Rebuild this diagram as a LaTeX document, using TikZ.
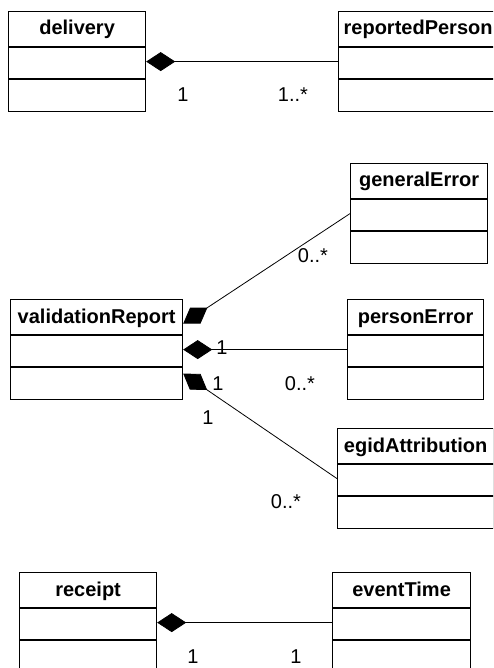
\documentclass[tikz,border=0pt]{standalone}
\usepackage{fontspec}
\setmainfont{Liberation Sans}
\usetikzlibrary{arrows.meta}
\newcommand{\umlclass}[5]{%
  \node[classbox, minimum width=#4pt, anchor=north west] (#1) at (#2,#3) {};
  \draw[classline] ([yshift=-36pt]#1.north west) -- ([yshift=-36pt]#1.north east);
  \draw[classline] ([yshift=-68pt]#1.north west) -- ([yshift=-68pt]#1.north east);
  \node[classtitle] (#1-title) at ([yshift=-24pt]#1.north) {#5};
}
\begin{document}
\begin{tikzpicture}[x=1pt,y=-1pt,
  classbox/.style={draw, line width=1.2pt, rectangle, minimum height=100pt, inner sep=0pt},
  classline/.style={line width=1.2pt},
  classtitle/.style={anchor=base, inner sep=0pt, font=\fontsize{20}{24}\selectfont\bfseries},
  mult/.style={inner sep=0pt, anchor=center, font=\fontsize{20}{24}\selectfont},
  comp/.style={line width=0.8pt, -{Diamond[length=29pt,width=19pt]}}]
\useasboundingbox (0,0) rectangle (493,668);
\clip (0,0) rectangle (493,668);
\fill[white] (0,0) rectangle (493,668);

\umlclass{delivery}{8}{11}{137}{delivery}
\umlclass{reportedPerson}{338}{11}{159}{reportedPerson}
\umlclass{generalError}{350}{163}{137}{generalError}
\umlclass{validationReport}{10}{299}{172}{validationReport}
\umlclass{personError}{347}{299}{136}{personError}
\umlclass{egidAttribution}{337}{428}{156}{egidAttribution}
\umlclass{receipt}{19}{572}{137}{receipt}
\umlclass{eventTime}{332}{572}{138}{eventTime}

\draw[comp] (reportedPerson.west) -- (delivery.east);
\draw[comp] (generalError.west) -- ([yshift=26pt]validationReport.east);
\draw[comp] (personError.west) -- (validationReport.east);
\draw[comp] (egidAttribution.west) -- ([yshift=-24pt]validationReport.east);
\draw[comp] (eventTime.west) -- (receipt.east);

\node[mult] (m1) at (183,95) {1};
\node[mult] (m2) at (293,95) {1..*};
\node[mult] (m3) at (313,256) {0..*};
\node[mult] (m4) at (222,348) {1};
\node[mult] (m5) at (300,384) {0..*};
\node[mult] (m6) at (218,384) {1};
\node[mult] (m7) at (208,418) {1};
\node[mult] (m8) at (286,502) {0..*};
\node[mult] (m9) at (193,657) {1};
\node[mult] (m10) at (296,657) {1};
\end{tikzpicture}
\end{document}
